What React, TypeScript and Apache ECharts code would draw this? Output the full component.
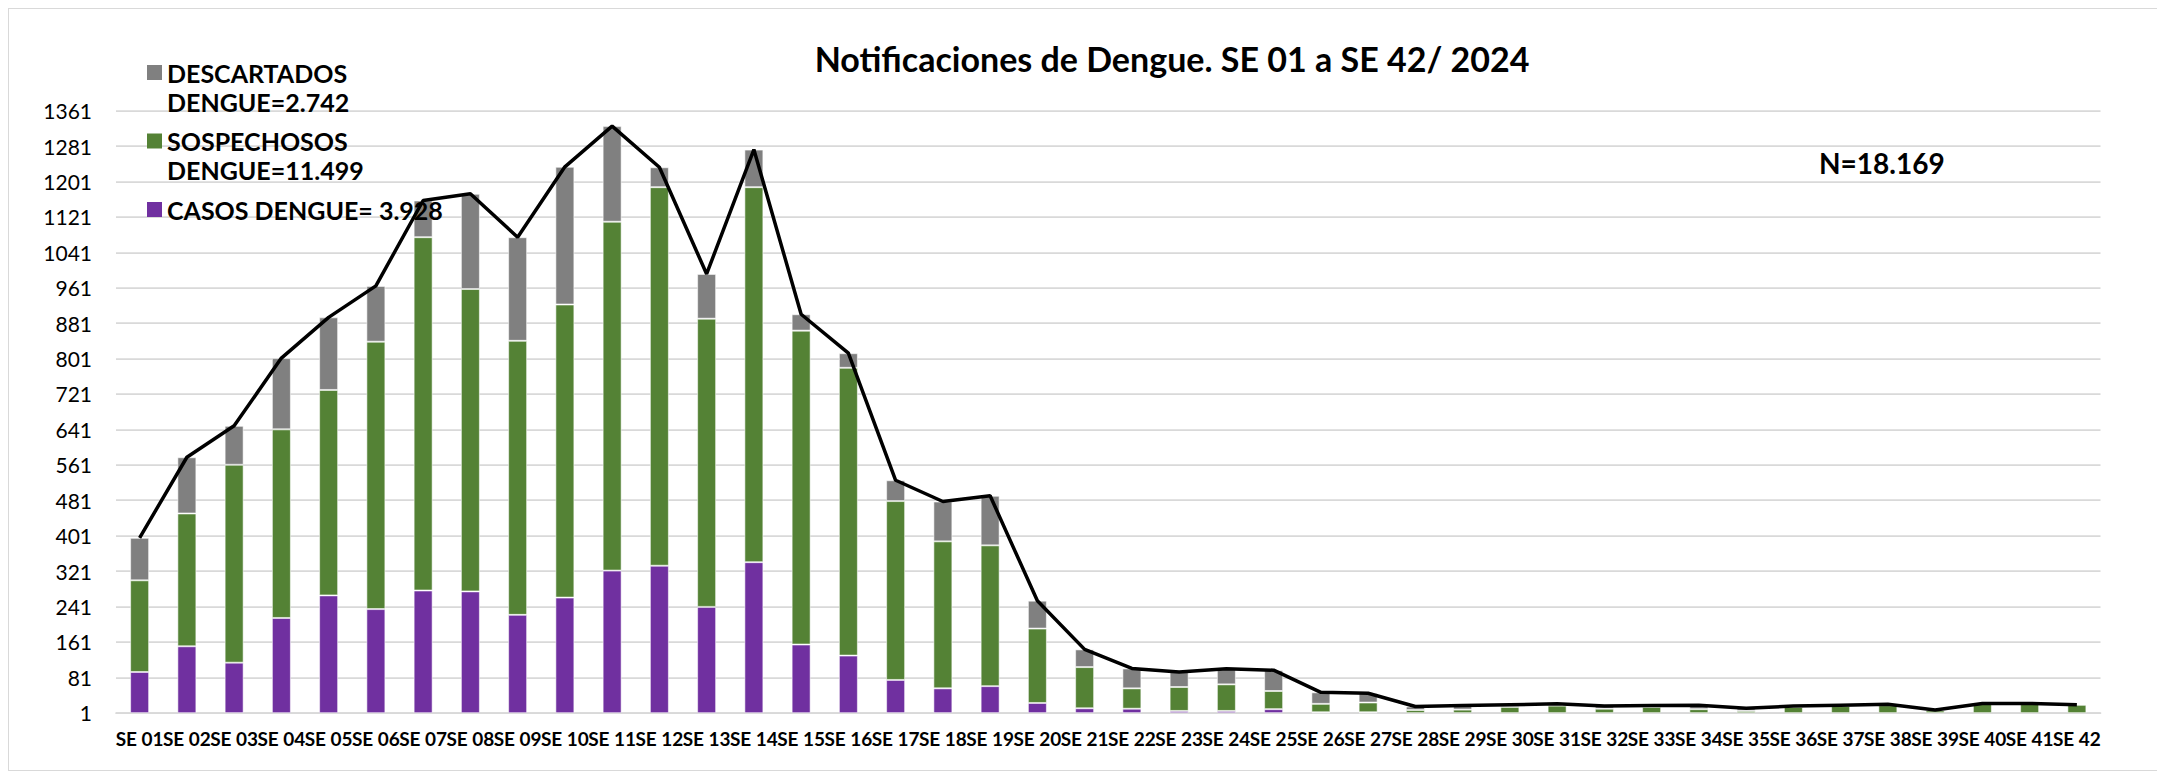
import { useEffect, useRef } from "react";
import * as echarts from "echarts";

const weeks = [
  "SE 01", "SE 02", "SE 03", "SE 04", "SE 05", "SE 06", "SE 07", "SE 08", "SE 09", "SE 10",
  "SE 11", "SE 12", "SE 13", "SE 14", "SE 15", "SE 16", "SE 17", "SE 18", "SE 19", "SE 20",
  "SE 21", "SE 22", "SE 23", "SE 24", "SE 25", "SE 26", "SE 27", "SE 28", "SE 29", "SE 30",
  "SE 31", "SE 32", "SE 33", "SE 34", "SE 35", "SE 36", "SE 37", "SE 38", "SE 39", "SE 40",
  "SE 41", "SE 42",
];

const casos = [
  93, 151, 114, 215, 266, 235, 277, 275, 222, 261,
  322, 333, 240, 341, 155, 130, 75, 56, 61, 23,
  11, 10, 5, 5, 9, 2, 2, 0, 0, 0,
  0, 0, 0, 0, 0, 0, 0, 0, 0, 0,
  0, 0,
];

const sospechosos = [
  207, 300, 447, 426, 464, 604, 798, 683, 619, 662,
  788, 855, 651, 847, 709, 650, 404, 332, 318, 168,
  93, 46, 54, 60, 41, 19, 22, 7, 8, 14,
  17, 10, 14, 9, 5, 14, 16, 18, 6, 21,
  21, 19,
];

const descartados = [
  96, 127, 88, 161, 164, 126, 83, 215, 234, 311,
  216, 45, 101, 85, 37, 33, 47, 90, 112, 63,
  40, 45, 34, 35, 47, 26, 21, 8, 9, 5,
  4, 6, 3, 9, 6, 2, 2, 2, 1, 1,
  1, 0,
];

const seriesNames = ["CASOS DENGUE= 3.928", "SOSPECHOSOS DENGUE=11.499", "DESCARTADOS DENGUE=2.742"];
const legendLines = [
  ["DESCARTADOS", "DENGUE=2.742"],
  ["SOSPECHOSOS", "DENGUE=11.499"],
  ["CASOS DENGUE= 3.928"],
];
const titleText = "Notificaciones de Dengue. SE 01 a SE 42/ 2024";
const totalText = "N=18.169";
const yMin = 1;
const yMax = 1361;
const yStep = 80;

const COLORS = { casos: "#7030A0", sosp: "#548235", desc: "#808080" };
const FONT = "Lato, 'Open Sans', sans-serif";

export default function App() {
  const ref = useRef<HTMLDivElement>(null);

  useEffect(() => {
    if (!ref.current) return;
    const chart = echarts.init(ref.current, undefined, { renderer: "svg" });
    const totals = weeks.map((_, i) => casos[i] + sospechosos[i] + descartados[i]);
    const legendColors = [COLORS.desc, COLORS.sosp, COLORS.casos];
    const legendFirstLineY = [63.5, 132, 200.5];
    const lineH = 29;

    const legendGraphics: any[] = [];
    legendLines.forEach((lines, i) => {
      const cy = legendFirstLineY[i];
      legendGraphics.push({
        type: "rect",
        shape: { x: 138, y: cy - 7.5, width: 15, height: 15 },
        style: { fill: legendColors[i] },
        silent: true,
        z: 100,
      });
      legendGraphics.push({
        type: "text",
        x: 158,
        y: cy - lineH / 2,
        z: 100,
        style: {
          text: lines.join("\n"),
          fill: "#000",
          fontFamily: FONT,
          fontWeight: "bold",
          fontSize: 25,
          lineHeight: lineH,
          verticalAlign: "top",
          align: "left",
        },
        silent: true,
      });
    });

    const barBase = {
      type: "bar" as const,
      stack: "total",
      barWidth: 19,
      itemStyle: { borderColor: "rgba(255,255,255,0.55)", borderWidth: 1 },
    };

    chart.setOption({
      animation: false,
      backgroundColor: "#fff",
      grid: { left: 107, right: 56.5, top: 101.6, bottom: 57.3 },
      xAxis: {
        type: "category",
        data: weeks,
        axisTick: { show: false },
        axisLine: { lineStyle: { color: "#d9d9d9", width: 1.75 } },
        axisLabel: {
          interval: 0,
          color: "#000",
          fontFamily: FONT,
          fontWeight: "bold",
          fontSize: 19,
          margin: 16,
        },
      },
      yAxis: {
        type: "value",
        min: yMin,
        max: yMax,
        interval: yStep,
        axisLine: { show: false },
        axisTick: { show: false },
        axisLabel: {
          color: "#000",
          fontFamily: FONT,
          fontSize: 21,
          margin: 24,
          formatter: (v: number) => String(v),
        },
        splitLine: { lineStyle: { color: "#d9d9d9", width: 1.75 } },
      },
      series: [
        { ...barBase, name: seriesNames[0], data: casos, itemStyle: { ...barBase.itemStyle, color: COLORS.casos } },
        { ...barBase, name: seriesNames[1], data: sospechosos, itemStyle: { ...barBase.itemStyle, color: COLORS.sosp } },
        { ...barBase, name: seriesNames[2], data: descartados, itemStyle: { ...barBase.itemStyle, color: COLORS.desc } },
        {
          type: "line",
          name: "Total",
          data: totals,
          symbol: "none",
          z: 5,
          lineStyle: { color: "#000", width: 3.5 },
        },
      ],
      graphic: [
        {
          type: "text",
          x: 1163,
          y: 49,
          z: 100,
          style: {
            text: titleText,
            fill: "#000",
            fontFamily: FONT,
            fontWeight: "bold",
            fontSize: 34,
            align: "center",
            verticalAlign: "middle",
          },
          silent: true,
        },
        {
          type: "text",
          x: 1810,
          y: 154,
          z: 100,
          style: {
            text: totalText,
            fill: "#000",
            fontFamily: FONT,
            fontWeight: "bold",
            fontSize: 28,
            align: "left",
            verticalAlign: "middle",
          },
          silent: true,
        },
        ...legendGraphics,
      ],
    });
    return () => chart.dispose();
  }, []);

  return (
    <div
      ref={ref}
      style={{ width: 2148, height: 761, border: "1px solid #d9d9d9", background: "#fff" }}
    />
  );
}
